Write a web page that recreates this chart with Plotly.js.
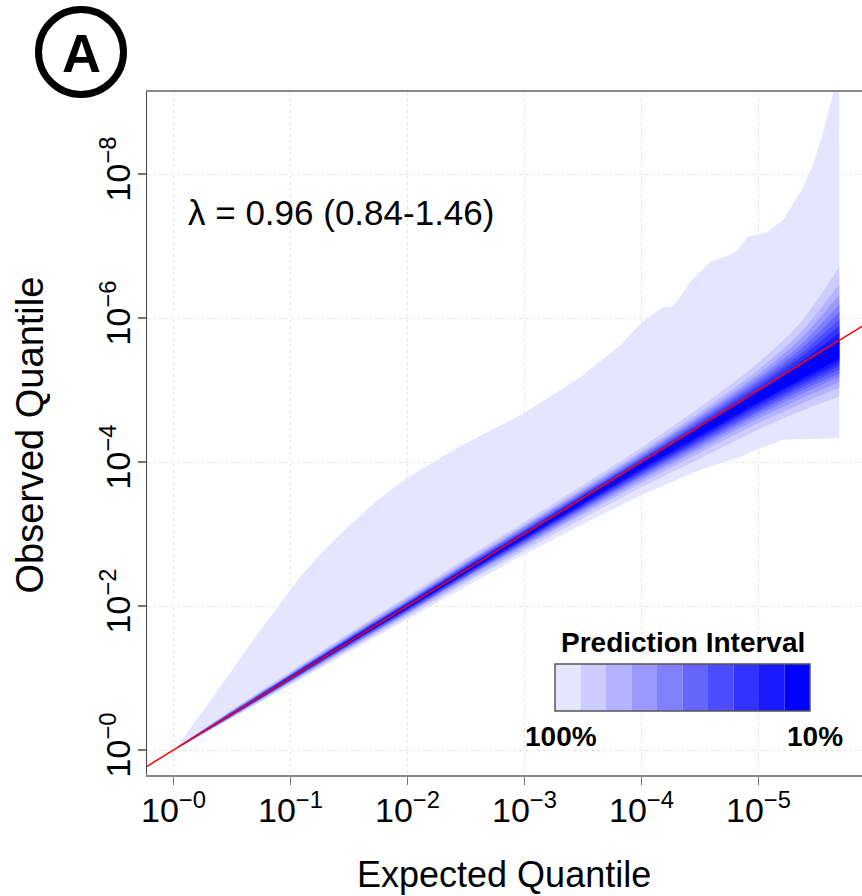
<!DOCTYPE html>
<html>
<head>
<meta charset="utf-8">
<script src="https://cdn.plot.ly/plotly-3.0.1.min.js"></script>
<style>html,body{margin:0;padding:0;background:#fff;}</style>
</head>
<body>
<div id="chart" style="width:862px;height:896px;"></div>
<script>
// ---- data (all values in -log10 units) ----
const xTickVals = [0, 1, 2, 3, 4, 5];
const xTickText = ['10<sup>−0</sup>', '10<sup>−1</sup>', '10<sup>−2</sup>', '10<sup>−3</sup>', '10<sup>−4</sup>', '10<sup>−5</sup>'];
const yTickVals = [0, 2, 4, 6, 8];
const yTickText = ['10<sup>−0</sup>', '10<sup>−2</sup>', '10<sup>−4</sup>', '10<sup>−6</sup>', '10<sup>−8</sup>'];

const levelNames = ['100%', '90%', '80%', '70%', '60%', '50%', '40%', '30%', '20%', '10%'];
const levelColors = ['#E5E5FF', '#CCCCFF', '#B3B3FF', '#9999FF', '#8080FF', '#6666FF', '#4D4DFF', '#3333FF', '#1A1AFF', '#0000FF'];

// outer (100%) band, jagged edges
const outerUpX = [0.04, 0.23, 0.44, 0.65, 0.87, 1.08, 1.30, 1.51, 1.75, 2.0, 2.45, 3.0, 3.47, 3.82, 4.01, 4.18, 4.27, 4.35, 4.43, 4.59, 4.76, 4.82, 4.91, 5.07, 5.21, 5.38, 5.47, 5.54, 5.64, 5.69];
const outerUp  = [0.07, 0.49, 0.97, 1.46, 1.94, 2.40, 2.80, 3.13, 3.48, 3.78, 4.22, 4.68, 5.17, 5.62, 5.95, 6.15, 6.16, 6.35, 6.53, 6.78, 6.88, 6.94, 7.13, 7.19, 7.36, 7.81, 8.15, 8.51, 9.13, 9.60];
const outerLoX = [0.04, 0.5, 1.0, 1.5, 2.0, 2.5, 3.0, 3.5, 4.0, 4.5, 4.84, 5.01, 5.21, 5.35, 5.69];
const outerLo  = [0.03, 0.44, 0.90, 1.36, 1.82, 2.27, 2.72, 3.14, 3.54, 3.89, 4.07, 4.19, 4.31, 4.32, 4.33];

// inner bands, sampled at bandX
const bandX = [0.04, 0.5, 1.0, 1.5, 2.0, 2.5, 3.0, 3.5, 4.0, 4.5, 5.0, 5.35, 5.69];
const up90 = [0.05, 0.56, 1.09, 1.62, 2.14, 2.66, 3.17, 3.68, 4.20, 4.76, 5.38, 5.92, 6.71];
const lo90 = [0.03, 0.45, 0.92, 1.39, 1.85, 2.32, 2.77, 3.22, 3.65, 4.05, 4.45, 4.70, 4.91];
const up80 = [0.05, 0.55, 1.07, 1.60, 2.11, 2.63, 3.13, 3.64, 4.15, 4.69, 5.28, 5.78, 6.47];
const lo80 = [0.03, 0.46, 0.94, 1.41, 1.88, 2.35, 2.81, 3.27, 3.71, 4.13, 4.54, 4.80, 5.03];
const up70 = [0.05, 0.54, 1.06, 1.58, 2.09, 2.60, 3.11, 3.61, 4.12, 4.65, 5.22, 5.69, 6.32];
const lo70 = [0.03, 0.47, 0.95, 1.43, 1.90, 2.38, 2.84, 3.30, 3.75, 4.18, 4.60, 4.87, 5.11];
const up60 = [0.05, 0.53, 1.05, 1.57, 2.07, 2.59, 3.09, 3.59, 4.09, 4.62, 5.17, 5.61, 6.19];
const lo60 = [0.03, 0.47, 0.96, 1.44, 1.91, 2.40, 2.86, 3.33, 3.78, 4.22, 4.65, 4.93, 5.18];
const up50 = [0.05, 0.53, 1.04, 1.56, 2.06, 2.57, 3.07, 3.57, 4.07, 4.59, 5.13, 5.55, 6.08];
const lo50 = [0.04, 0.48, 0.96, 1.45, 1.92, 2.41, 2.88, 3.35, 3.81, 4.25, 4.69, 4.98, 5.23];
const up40 = [0.04, 0.52, 1.04, 1.55, 2.05, 2.56, 3.05, 3.55, 4.05, 4.56, 5.09, 5.49, 5.98];
const lo40 = [0.04, 0.48, 0.97, 1.46, 1.94, 2.42, 2.90, 3.37, 3.83, 4.28, 4.72, 5.02, 5.28];
const up30 = [0.04, 0.52, 1.03, 1.54, 2.04, 2.54, 3.04, 3.54, 4.03, 4.53, 5.05, 5.44, 5.89];
const lo30 = [0.04, 0.48, 0.98, 1.47, 1.95, 2.44, 2.92, 3.39, 3.86, 4.31, 4.76, 5.06, 5.33];
const up20 = [0.04, 0.51, 1.02, 1.53, 2.03, 2.53, 3.02, 3.52, 4.01, 4.51, 5.01, 5.38, 5.79];
const lo20 = [0.04, 0.49, 0.98, 1.48, 1.96, 2.45, 2.93, 3.41, 3.88, 4.34, 4.80, 5.10, 5.38];
const up10 = [0.04, 0.51, 1.01, 1.52, 2.01, 2.52, 3.01, 3.50, 3.99, 4.48, 4.97, 5.33, 5.70];
const lo10 = [0.04, 0.49, 0.99, 1.48, 1.97, 2.46, 2.95, 3.43, 3.91, 4.37, 4.83, 5.14, 5.43];

const refLine = [-0.5, 6.5];   // observed = expected
const lambdaText = 'λ = 0.96 (0.84-1.46)';

// ---- build traces ----
const rev = a => a.slice().reverse();
const traces = [];
traces.push({
  x: outerUpX.concat(rev(outerLoX)), y: outerUp.concat(rev(outerLo)),
  type: 'scatter', mode: 'lines', fill: 'toself', fillcolor: levelColors[0],
  line: {width: 0, color: levelColors[0]}, hoverinfo: 'skip', name: levelNames[0]
});
const inner = [[up90, lo90], [up80, lo80], [up70, lo70], [up60, lo60], [up50, lo50], [up40, lo40], [up30, lo30], [up20, lo20], [up10, lo10]];
inner.forEach((b, i) => {
  const c = levelColors[i + 1];
  traces.push({x: bandX, y: b[1], type: 'scatter', mode: 'lines', fill: 'none',
    line: {width: 0, color: c, shape: 'spline', smoothing: 0.7}, hoverinfo: 'skip', name: levelNames[i + 1] + ' lower'});
  traces.push({x: bandX, y: b[0], type: 'scatter', mode: 'lines', fill: 'tonexty', fillcolor: c,
    line: {width: 0, color: c, shape: 'spline', smoothing: 0.7}, hoverinfo: 'skip', name: levelNames[i + 1]});
});
traces.push({x: refLine, y: refLine, type: 'scatter', mode: 'lines', line: {color: '#FF0000', width: 1.5}, hoverinfo: 'skip'});

// ---- layout ----
const W = 862, H = 896, L = 147, R = 0, T = 92, B = 121;
const pw = W - L - R, ph = H - T - B;
const px = v => (v - L) / pw;          // pixel -> paper x
const py = v => (H - B - v) / ph;      // pixel -> paper y
const tickFont = {family: '"Liberation Sans Narrow", "Arial Narrow", "Liberation Sans", Arial, sans-serif', size: 34, color: '#000'};
const sans = '"Liberation Sans", Arial, Helvetica, sans-serif';

const shapes = [];
// legend swatches
const sx0 = 555, sx1 = 810, sy0 = 664, sy1 = 711;
const sw = (sx1 - sx0) / levelColors.length;
levelColors.forEach((c, i) => {
  shapes.push({type: 'rect', xref: 'paper', yref: 'paper', x0: px(sx0 + i * sw), x1: px(sx0 + (i + 1) * sw), y0: py(sy1), y1: py(sy0), fillcolor: c, line: {width: 0}, layer: 'above'});
});
shapes.push({type: 'rect', xref: 'paper', yref: 'paper', x0: px(sx0), x1: px(sx1), y0: py(sy1), y1: py(sy0), line: {color: '#555', width: 1.5}, layer: 'above'});
// panel letter circle
shapes.push({type: 'circle', xref: 'paper', yref: 'paper', x0: px(38.5), x1: px(123.5), y0: py(94.5), y1: py(9.5), line: {color: '#000', width: 7}});

const annotations = [
  {text: lambdaText, xref: 'paper', yref: 'paper', x: px(186), y: py(212), xanchor: 'left', yanchor: 'middle', showarrow: false, font: {family: sans, size: 35, color: '#000'}},
  {text: '<b>Prediction Interval</b>', xref: 'paper', yref: 'paper', x: px(683), y: py(642), xanchor: 'center', yanchor: 'middle', showarrow: false, font: {family: sans, size: 28, color: '#000'}},
  {text: '<b>' + levelNames[0] + '</b>', xref: 'paper', yref: 'paper', x: px(561), y: py(736), xanchor: 'center', yanchor: 'middle', showarrow: false, font: {family: sans, size: 28, color: '#000'}},
  {text: '<b>' + levelNames[9] + '</b>', xref: 'paper', yref: 'paper', x: px(815), y: py(736), xanchor: 'center', yanchor: 'middle', showarrow: false, font: {family: sans, size: 28, color: '#000'}},
  {text: '<b>A</b>', xref: 'paper', yref: 'paper', x: px(81), y: py(53), xanchor: 'center', yanchor: 'middle', showarrow: false, font: {family: sans, size: 54, color: '#000'}},
  {text: 'Expected Quantile', xref: 'paper', yref: 'paper', x: px(503.5), y: py(874), xanchor: 'center', yanchor: 'middle', showarrow: false, font: {family: sans, size: 36, color: '#000'}},
  {text: 'Observed Quantile', xref: 'paper', yref: 'paper', x: px(29), y: py(435.5), xanchor: 'center', yanchor: 'middle', textangle: -90, showarrow: false, font: {family: sans, size: 38, color: '#000'}}
];

const layout = {
  width: W, height: H,
  margin: {l: L, r: R, t: T, b: B, pad: 0},
  paper_bgcolor: '#fff', plot_bgcolor: '#fff',
  showlegend: false,
  xaxis: {
    range: [(L - 173.5) / 117, (W - R - 173.5) / 117],
    tickmode: 'array', tickvals: xTickVals, ticktext: xTickText,
    ticks: 'outside', ticklen: 8, tickwidth: 1.5, tickcolor: '#777', ticklabelstandoff: -4,
    showline: true, linecolor: '#888', linewidth: 2, mirror: true,
    showgrid: true, gridcolor: '#e3e3e3', gridwidth: 1, griddash: 'dot',
    zeroline: false, tickfont: tickFont, fixedrange: true
  },
  yaxis: {
    range: [(750 - (H - B)) / 72, (750 - T) / 72],
    tickmode: 'array', tickvals: yTickVals, ticktext: yTickText, tickangle: -90,
    ticks: 'outside', ticklen: 8, tickwidth: 1.5, tickcolor: '#777', ticklabelstandoff: -6,
    showline: true, linecolor: '#444', linewidth: 1.5,
    showgrid: true, gridcolor: '#e3e3e3', gridwidth: 1, griddash: 'dot',
    zeroline: false, tickfont: tickFont, fixedrange: true
  },
  shapes: shapes,
  annotations: annotations
};

Plotly.newPlot('chart', traces, layout, {displayModeBar: false, staticPlot: true});
</script>
</body>
</html>
